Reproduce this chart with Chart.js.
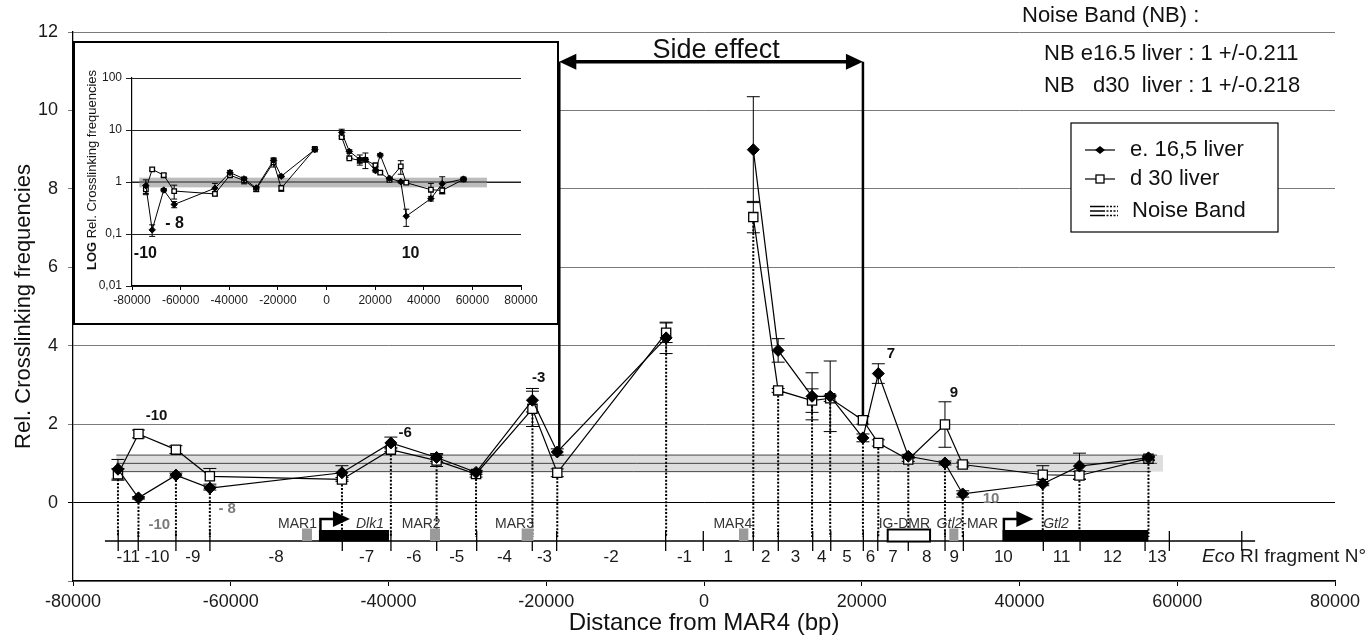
<!DOCTYPE html>
<html>
<head>
<meta charset="utf-8">
<title>Crosslinking frequencies</title>
<script src="https://cdn.jsdelivr.net/npm/chart.js@4.4.1/dist/chart.umd.min.js"></script>
<style>
  body { margin: 0; background: #fff; }
  #wrap { position: relative; width: 1369px; height: 641px; overflow: hidden; }
  #main { position: absolute; left: 0; top: 0; }
  #insetBox { position: absolute; left: 73px; top: 41px; width: 482px; height: 280px;
              border: 2px solid #000; background: #fff; }
  #inset { display: block; }
</style>
</head>
<body>
<div id="wrap">
  <canvas id="main" width="1369" height="641"></canvas>
  <div id="insetBox"><canvas id="inset" width="482" height="280"></canvas></div>
</div>
<script>
var FONT = "'Liberation Sans', Arial, Helvetica, sans-serif";

// positions of the probes (bp from MAR4)
var positions = [-74300, -71700, -66950, -62650, -45900, -39700, -33900, -28900, -21750, -18600, -4800, 0,
                 6250, 9400, 13700, 16000, 20150, 22100, 25900, 30550, 32800, 42950, 47600, 56350];

// e. 16,5 liver (filled diamonds)
var e165Liver = [0.85, 0.12, 0.70, 0.37, 0.76, 1.52, 1.15, 0.77, 2.61, 1.29, 4.20, null,
                 9.00, 3.88, 2.71, 2.71, 1.65, 3.29, 1.18, 1.01, 0.22, 0.48, 0.93, 1.14];
var e165Err   = [0.25, 0.03, 0.05, 0.05, 0.18, 0.15, 0.10, 0.05, 0.30, 0.08, 0.40, null,
                 1.35, 0.30, 0.60, 0.90, 0.10, 0.25, 0.05, 0.05, 0.08, 0.05, 0.33, 0.05];

// d 30 liver (open squares)
var d30Liver  = [0.72, 1.75, 1.35, 0.67, 0.59, 1.35, 1.07, 0.73, 2.39, 0.76, 4.33, null,
                 7.28, 2.86, 2.60, 2.66, 2.10, 1.52, 1.10, 1.99, 0.97, 0.71, 0.69, 1.12];
var d30Err    = [0.15, 0.10, 0.10, 0.20, 0.05, 0.05, 0.15, 0.08, 0.45, 0.10, 0.25, null,
                 0.40, 0.05, 0.30, 0.08, 0.10, 0.08, 0.05, 0.58, 0.06, 0.23, 0.10, 0.05];

// noise band 1 +/- 0.211
var noiseBand = [0.789, 1.211];
var noiseBandRange = [-74500, 58200];
var insetBandRange = [-77000, 66000];

// Eco RI fragments
var fragmentEnds = [-74270, -71730, -66950, -62640, -45860, -39690, -33890, -28820, -21770, -18680, -4860, -90,
                    6250, 9420, 13780, 16070, 20200, 22030, 25900, 30560, 32880, 43020, 47680, 55920, 59000, 68180];
var fragmentNames = ['-11', '-10', '-9', '-8', '-7', '-6', '-5', '-4', '-3', '-2', '-1',
                     '1', '2', '3', '4', '5', '6', '7', '8', '9', '10', '11', '12', '13'];
var mapLevel = -0.98;
var mapRange = [-75950, 69870];

var marNames = ['MAR1', 'MAR2', 'MAR3', 'MAR4', 'Gtl2-MAR'];
var marStart = [-50970, -34740, -23120, 4440, 31100];
var marEnd   = [-49700, -33470, -21640, 5620, 32250];
var marLabelEnd = [-49070, -33390, -21560, 6120, 37280];

var geneNames = ['Dlk1', 'Gtl2'];
var geneStart = [-48820, 37830];
var geneEnd   = [-39940, 56340];
var geneLabelX = [-42350, 44630];

var dmrName = 'IG-DMR';
var dmrStart = 23290;
var dmrEnd = 28660;

// side effect arrow between probe 10 and probe 17
var sideEffectIdx = [9, 16];
var sideEffectLevel = 11.24;

// annotations
var boldLabels = ['-10', '-6', '-3', '7', '9'];
var boldLabelX = [-69400, -37900, -20960, 23710, 31700];
var boldLabelY = [2.2, 1.78, 3.18, 3.8, 2.8];
var greyLabels = ['-10', '- 8', '10'];
var greyLabelX = [-69060, -60450, 36390];
var greyLabelY = [-0.58, -0.15, 0.10];
var insetLabels = ['-10', '- 8', '10'];
var insetLabelX = [-74500, -62500, 34600];
var insetLabelY = [0.042, 0.16, 0.042];

var noiseText = ['Noise Band (NB) :', 'NB e16.5 liver : 1 +/-0.211', 'NB   d30  liver : 1 +/-0.218'];
var legendNames = ['e. 16,5 liver', 'd 30 liver', 'Noise Band'];

var insetTickValues = [0.01, 0.1, 1, 10, 100];
var insetTickText = ['0,01', '0,1', '1', '10', '100'];


function pointsOf(values) {

  var pts = [];

  for (var i = 0; i < positions.length; i++) {

    pts.push({ x: positions[i], y: values[i] });
  }

  return pts;
}

function line(ctx, x1, y1, x2, y2) {

  ctx.beginPath();
  ctx.moveTo(x1, y1);
  ctx.lineTo(x2, y2);
  ctx.stroke();
}

// text made of several parts with their own font (italic gene names, bold LOG)
function drawParts(ctx, parts, x, y, align) {

  var total = 0;

  for (var i = 0; i < parts.length; i++) {

    ctx.font = parts[i].f;
    parts[i].w = ctx.measureText(parts[i].t).width;
    total += parts[i].w;
  }

  var start = x;
  if (align == 'center') start = x - total / 2;
  if (align == 'right') start = x - total;

  ctx.textAlign = 'left';

  for (var i = 0; i < parts.length; i++) {

    ctx.font = parts[i].f;
    ctx.fillText(parts[i].t, start, y);
    start += parts[i].w;
  }
}

function geneParts(name, size) {

  if (name.indexOf('Gtl2') == 0) {

    return [{ t: 'Gtl2', f: 'italic ' + size + 'px ' + FONT }, { t: name.slice(4), f: size + 'px ' + FONT }];
  }

  return [{ t: name, f: size + 'px ' + FONT }];
}

function drawErrorBars(chart, values, errors, cap) {

  var ctx = chart.ctx;
  var xs = chart.scales.x;
  var ys = chart.scales.y;

  ctx.save();
  ctx.strokeStyle = '#000';
  ctx.lineWidth = 1;

  for (var i = 0; i < positions.length; i++) {

    if (values[i] === null) continue;

    var x = xs.getPixelForValue(positions[i]);
    var top = ys.getPixelForValue(values[i] + errors[i]);
    var lo = values[i] - errors[i];
    var bottom = ys.getPixelForValue(lo > ys.min ? lo : ys.min);

    line(ctx, x, top, x, bottom);
    line(ctx, x - cap, top, x + cap, top);
    if (lo > ys.min) line(ctx, x - cap, bottom, x + cap, bottom);
  }

  ctx.restore();
}

function drawBand(chart, range, fill, withLines) {

  var ctx = chart.ctx;
  var xs = chart.scales.x;
  var ys = chart.scales.y;
  var x1 = xs.getPixelForValue(range[0]);
  var x2 = xs.getPixelForValue(range[1]);
  var yTop = ys.getPixelForValue(noiseBand[1]);
  var yBot = ys.getPixelForValue(noiseBand[0]);

  ctx.save();
  ctx.fillStyle = fill;
  ctx.fillRect(x1, yTop, x2 - x1, yBot - yTop);

  if (withLines) {

    ctx.strokeStyle = '#444';
    ctx.lineWidth = 1;
    line(ctx, x1, yTop, x2 - 6, yTop);
    line(ctx, x1, ys.getPixelForValue(1), x2 - 6, ys.getPixelForValue(1));
    line(ctx, x1, yBot, x2 - 12, yBot);
  }

  ctx.restore();
}

function drawDottedLines(chart) {

  var ctx = chart.ctx;
  var xs = chart.scales.x;
  var ys = chart.scales.y;

  ctx.save();
  ctx.strokeStyle = '#000';
  ctx.lineWidth = 2;
  ctx.setLineDash([2, 1.6]);

  for (var i = 0; i < positions.length; i++) {

    if (e165Liver[i] === null) continue;

    var low = Math.min(e165Liver[i], d30Liver[i]);
    var x = xs.getPixelForValue(positions[i]);
    line(ctx, x, ys.getPixelForValue(low) + 5, x, ys.getPixelForValue(-0.88));
  }

  ctx.restore();
}

function drawGeneMap(chart) {

  var ctx = chart.ctx;
  var xs = chart.scales.x;
  var ys = chart.scales.y;
  var base = ys.getPixelForValue(mapLevel);

  ctx.save();
  ctx.strokeStyle = '#000';
  ctx.fillStyle = '#000';
  ctx.lineWidth = 1.3;

  line(ctx, xs.getPixelForValue(mapRange[0]), base, xs.getPixelForValue(mapRange[1]), base);

  for (var i = 0; i < fragmentEnds.length; i++) {

    var fx = xs.getPixelForValue(fragmentEnds[i]);
    line(ctx, fx, base - 10, fx, base + 10);
  }

  // fragment numbers
  ctx.fillStyle = '#1a1a1a';
  ctx.font = '17px ' + FONT;
  ctx.textAlign = 'center';
  ctx.textBaseline = 'middle';

  for (var i = 0; i < fragmentNames.length; i++) {

    var mid = (fragmentEnds[i] + fragmentEnds[i + 1]) / 2;
    ctx.fillText(fragmentNames[i], xs.getPixelForValue(mid), base + 16);
  }

  drawParts(ctx, [{ t: 'Eco', f: 'italic 19px ' + FONT }, { t: ' RI fragment N°', f: '19px ' + FONT }],
            xs.getPixelForValue(mapRange[1]) - 53, base + 16, 'left');

  // MAR boxes
  ctx.textBaseline = 'alphabetic';

  for (var i = 0; i < marNames.length; i++) {

    var m1 = xs.getPixelForValue(marStart[i]);
    var m2 = xs.getPixelForValue(marEnd[i]);
    ctx.fillStyle = '#9a9a9a';
    ctx.fillRect(m1, base - 12.5, m2 - m1, 12.5);
    ctx.fillStyle = '#333';
    drawParts(ctx, geneParts(marNames[i], 14), xs.getPixelForValue(marLabelEnd[i]), base - 13, 'right');
  }

  // IG-DMR
  var d1 = xs.getPixelForValue(dmrStart);
  var d2 = xs.getPixelForValue(dmrEnd);
  ctx.fillStyle = '#fff';
  ctx.fillRect(d1, base - 11.5, d2 - d1, 12);
  ctx.lineWidth = 2;
  ctx.strokeRect(d1, base - 11.5, d2 - d1, 12);
  ctx.fillStyle = '#333';
  drawParts(ctx, geneParts(dmrName, 14), d2, base - 13, 'right');

  // genes with their start arrows
  for (var i = 0; i < geneNames.length; i++) {

    var g1 = xs.getPixelForValue(geneStart[i]);
    var g2 = xs.getPixelForValue(geneEnd[i]);
    ctx.fillStyle = '#000';
    ctx.fillRect(g1, base - 11, g2 - g1, 11.5);

    ctx.lineWidth = 2.5;
    ctx.beginPath();
    ctx.moveTo(g1 + 1.5, base - 11);
    ctx.lineTo(g1 + 1.5, base - 22);
    ctx.lineTo(g1 + 15, base - 22);
    ctx.stroke();

    ctx.beginPath();
    ctx.moveTo(g1 + 14, base - 30);
    ctx.lineTo(g1 + 31, base - 22);
    ctx.lineTo(g1 + 14, base - 14);
    ctx.closePath();
    ctx.fill();

    ctx.fillStyle = '#333';
    ctx.font = 'italic 14px ' + FONT;
    ctx.textAlign = 'center';
    ctx.fillText(geneNames[i], xs.getPixelForValue(geneLabelX[i]), base - 13);
  }

  ctx.restore();
}

function drawSideEffect(chart) {

  var ctx = chart.ctx;
  var xs = chart.scales.x;
  var ys = chart.scales.y;
  var yA = ys.getPixelForValue(sideEffectLevel);
  var iL = sideEffectIdx[0];
  var iR = sideEffectIdx[1];
  var xL = xs.getPixelForValue(positions[iL]) + 2;
  var xR = xs.getPixelForValue(positions[iR]);

  ctx.save();
  ctx.strokeStyle = '#000';
  ctx.fillStyle = '#000';

  ctx.lineWidth = 2.5;
  line(ctx, xL, yA, xL, ys.getPixelForValue(Math.max(e165Liver[iL], d30Liver[iL])) - 4);
  line(ctx, xR, yA, xR, ys.getPixelForValue(Math.max(e165Liver[iR], d30Liver[iR])) - 4);

  ctx.lineWidth = 3.5;
  line(ctx, xL + 10, yA, xR - 10, yA);

  ctx.beginPath();
  ctx.moveTo(xL, yA);
  ctx.lineTo(xL + 17, yA - 8);
  ctx.lineTo(xL + 17, yA + 8);
  ctx.closePath();
  ctx.fill();

  ctx.beginPath();
  ctx.moveTo(xR, yA);
  ctx.lineTo(xR - 17, yA - 8);
  ctx.lineTo(xR - 17, yA + 8);
  ctx.closePath();
  ctx.fill();

  ctx.fillStyle = '#111';
  ctx.font = '27px ' + FONT;
  ctx.textAlign = 'center';
  ctx.textBaseline = 'alphabetic';
  ctx.fillText('Side effect', (xL + xR) / 2 + 5, yA - 4);

  ctx.restore();
}

function drawLabels(chart) {

  var ctx = chart.ctx;
  var xs = chart.scales.x;
  var ys = chart.scales.y;

  ctx.save();
  ctx.textAlign = 'center';
  ctx.textBaseline = 'middle';
  ctx.font = 'bold 15px ' + FONT;
  ctx.fillStyle = '#111';

  for (var i = 0; i < boldLabels.length; i++) {

    ctx.fillText(boldLabels[i], xs.getPixelForValue(boldLabelX[i]), ys.getPixelForValue(boldLabelY[i]));
  }

  ctx.fillStyle = '#7a7a7a';

  for (var i = 0; i < greyLabels.length; i++) {

    ctx.fillText(greyLabels[i], xs.getPixelForValue(greyLabelX[i]), ys.getPixelForValue(greyLabelY[i]));
  }

  ctx.restore();
}

function drawNoiseText(chart) {

  var ctx = chart.ctx;

  ctx.save();
  ctx.fillStyle = '#111';
  ctx.font = '22px ' + FONT;
  ctx.textAlign = 'left';
  ctx.textBaseline = 'middle';
  ctx.fillText(noiseText[0], 1022, 16);
  ctx.fillText(noiseText[1], 1044, 54);
  ctx.fillText(noiseText[2], 1044, 86);
  ctx.restore();
}

function drawLegend(chart) {

  var ctx = chart.ctx;
  var left = 1071, top = 123, w = 207, h = 109;
  var rows = [150, 179, 211];

  ctx.save();
  ctx.fillStyle = '#fff';
  ctx.fillRect(left, top, w, h);
  ctx.strokeStyle = '#000';
  ctx.lineWidth = 1.2;
  ctx.strokeRect(left, top, w, h);

  // e. 16,5 liver
  line(ctx, 1085, rows[0], 1115, rows[0]);
  ctx.fillStyle = '#000';
  ctx.beginPath();
  ctx.moveTo(1100, rows[0] - 4);
  ctx.lineTo(1105, rows[0]);
  ctx.lineTo(1100, rows[0] + 4);
  ctx.lineTo(1095, rows[0]);
  ctx.closePath();
  ctx.fill();

  // d 30 liver
  line(ctx, 1085, rows[1], 1115, rows[1]);
  ctx.fillStyle = '#fff';
  ctx.fillRect(1096, rows[1] - 4, 8, 8);
  ctx.lineWidth = 1.3;
  ctx.strokeRect(1096, rows[1] - 4, 8, 8);

  // noise band
  ctx.lineWidth = 1.5;
  for (var k = -1; k <= 1; k++) {

    var yy = rows[2] + k * 4.5;
    ctx.setLineDash([]);
    line(ctx, 1090, yy, 1103, yy);
    ctx.setLineDash([2, 1.5]);
    line(ctx, 1103, yy, 1118, yy);
  }
  ctx.setLineDash([]);

  ctx.fillStyle = '#111';
  ctx.font = '22px ' + FONT;
  ctx.textAlign = 'left';
  ctx.textBaseline = 'middle';
  ctx.fillText(legendNames[0], 1130, rows[0]);
  ctx.fillText(legendNames[1], 1130, rows[1]);
  ctx.fillText(legendNames[2], 1132, rows[2]);
  ctx.restore();
}

var mainExtras = {
  id: 'mainExtras',
  beforeDatasetsDraw: function(chart) {

    drawBand(chart, noiseBandRange, '#dedede', true);
    drawDottedLines(chart);
    drawGeneMap(chart);
    drawSideEffect(chart);
    drawErrorBars(chart, d30Liver, d30Err, 6.5);
    drawErrorBars(chart, e165Liver, e165Err, 6.5);
  },
  afterDatasetsDraw: function(chart) {

    drawLabels(chart);
    drawNoiseText(chart);
    drawLegend(chart);
  }
};

var insetExtras = {
  id: 'insetExtras',
  beforeDatasetsDraw: function(chart) {

    drawBand(chart, insetBandRange, '#bcbcbc', false);

    var ctx = chart.ctx;
    var ys = chart.scales.y;
    ctx.save();
    ctx.strokeStyle = '#222';
    ctx.lineWidth = 1;
    line(ctx, chart.chartArea.left, ys.getPixelForValue(1), chart.chartArea.right, ys.getPixelForValue(1));
    ctx.restore();

    drawErrorBars(chart, d30Liver, d30Err, 3);
    drawErrorBars(chart, e165Liver, e165Err, 3);
  },
  afterDatasetsDraw: function(chart) {

    var ctx = chart.ctx;
    var xs = chart.scales.x;
    var ys = chart.scales.y;

    ctx.save();
    ctx.fillStyle = '#111';
    ctx.font = 'bold 16px ' + FONT;
    ctx.textAlign = 'center';
    ctx.textBaseline = 'middle';

    for (var i = 0; i < insetLabels.length; i++) {

      ctx.fillText(insetLabels[i], xs.getPixelForValue(insetLabelX[i]), ys.getPixelForValue(insetLabelY[i]));
    }

    // rotated axis title with a bold LOG
    ctx.translate(17, 127);
    ctx.rotate(-Math.PI / 2);
    drawParts(ctx, [{ t: 'LOG', f: 'bold 13px ' + FONT }, { t: ' Rel. Crosslinking frequencies', f: '13px ' + FONT }],
              0, 0, 'center');
    ctx.restore();
  }
};

function seriesSets(radiusDiamond, radiusSquare, width) {

  return [
    {
      label: legendNames[0],
      data: pointsOf(e165Liver),
      borderColor: '#000',
      backgroundColor: '#000',
      borderWidth: width,
      pointStyle: 'rectRot',
      pointRadius: radiusDiamond,
      pointBackgroundColor: '#000',
      pointBorderColor: '#000',
      pointBorderWidth: 1,
      spanGaps: false,
      tension: 0
    },
    {
      label: legendNames[1],
      data: pointsOf(d30Liver),
      borderColor: '#000',
      backgroundColor: '#fff',
      borderWidth: width,
      pointStyle: 'rect',
      pointRadius: radiusSquare,
      pointBackgroundColor: '#fff',
      pointBorderColor: '#000',
      pointBorderWidth: 1.3,
      spanGaps: false,
      tension: 0
    }
  ];
}

Chart.defaults.font.family = FONT;
Chart.defaults.color = '#1a1a1a';

var mainChart = new Chart(document.getElementById('main'), {
  type: 'line',
  data: { datasets: seriesSets(6, 6.5, 1.2) },
  options: {
    responsive: false,
    animation: false,
    devicePixelRatio: 1,
    layout: { padding: { top: 32, right: 34, left: 0, bottom: 0 } },
    plugins: { legend: { display: false }, tooltip: { enabled: false } },
    scales: {
      x: {
        type: 'linear',
        min: -80000,
        max: 80000,
        ticks: {
          stepSize: 20000,
          padding: 5,
          maxRotation: 0,
          autoSkip: false,
          font: { size: 18 },
          callback: function(v) { return String(v); }
        },
        grid: { drawOnChartArea: false, tickLength: 5, color: '#000' },
        border: { color: '#000', width: 1.3 },
        title: {
          display: true,
          text: 'Distance from MAR4 (bp)',
          font: { size: 24 },
          color: '#111',
          padding: { top: 0, bottom: 3 }
        },
        afterFit: function(scale) { scale.height = 60; }
      },
      y: {
        min: -2,
        max: 12,
        ticks: {
          stepSize: 2,
          padding: 10,
          font: { size: 18 },
          callback: function(v) { return v < 0 ? '' : String(v); }
        },
        grid: {
          tickLength: 5,
          lineWidth: 1,
          color: function(c) { return c.tick && c.tick.value == 0 ? '#000' : '#7a7a7a'; }
        },
        border: { color: '#000', width: 1.3 },
        title: {
          display: true,
          text: 'Rel. Crosslinking frequencies',
          font: { size: 22 },
          color: '#111',
          padding: { top: 11, bottom: 0 }
        },
        afterFit: function(scale) { scale.width = 73; }
      }
    }
  },
  plugins: [mainExtras]
});

var insetChart = new Chart(document.getElementById('inset'), {
  type: 'line',
  data: { datasets: seriesSets(3.2, 3.2, 1) },
  options: {
    responsive: false,
    animation: false,
    devicePixelRatio: 1,
    layout: { padding: { top: 35, right: 36, left: 0, bottom: 0 } },
    plugins: { legend: { display: false }, tooltip: { enabled: false } },
    scales: {
      x: {
        type: 'linear',
        min: -80000,
        max: 80000,
        ticks: {
          stepSize: 20000,
          padding: 3,
          maxRotation: 0,
          autoSkip: false,
          font: { size: 12 },
          callback: function(v) { return String(v); }
        },
        grid: { drawOnChartArea: false, tickLength: 4, color: '#000' },
        border: { color: '#000', width: 1.2 },
        afterFit: function(scale) { scale.height = 37; }
      },
      y: {
        type: 'logarithmic',
        min: 0.01,
        max: 100,
        afterBuildTicks: function(scale) {
          scale.ticks = insetTickValues.map(function(v) { return { value: v }; });
        },
        ticks: {
          padding: 4,
          font: { size: 12 },
          callback: function(v) { return insetTickText[insetTickValues.indexOf(v)]; }
        },
        grid: { tickLength: 6, color: '#222', lineWidth: 1 },
        border: { color: '#000', width: 1.2 },
        afterFit: function(scale) { scale.width = 57; }
      }
    }
  },
  plugins: [insetExtras]
});
</script>
</body>
</html>
